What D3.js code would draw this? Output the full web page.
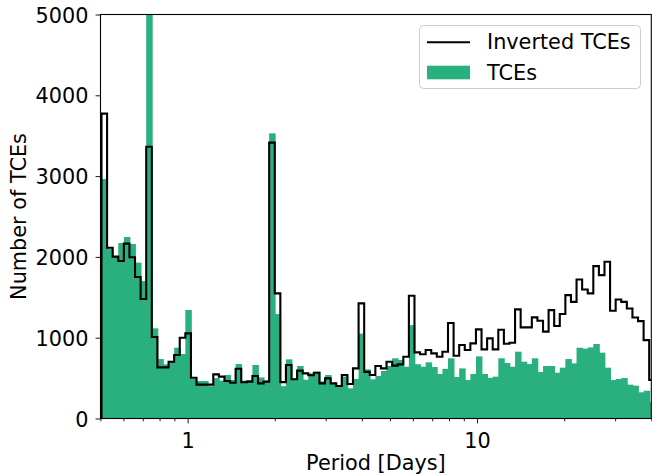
<!DOCTYPE html>
<html>
<head>
<meta charset="utf-8">
<script src="https://cdn.jsdelivr.net/npm/d3@7"></script>
<style>
  html, body { margin: 0; padding: 0; background: #fff; }
  svg { display: block; }
  text { font-family: "DejaVu Sans", sans-serif; fill: #000; }
</style>
</head>
<body>
<svg id="chart" width="652" height="475"></svg>
<script>
// Histogram counts per log-spaced period bin
const invertedCounts = [
  3773, 2114, 2003, 1949, 2164, 1995, 1751, 1479, 3364, 1008,
  633, 633, 703, 786, 1000, 1054, 505, 419, 419, 419,
  546, 518, 464, 443, 616, 448, 456, 526, 435, 456,
  3414, 1549, 450, 662, 485, 592, 559, 536, 567, 435,
  497, 435, 402, 538, 427, 620, 1425, 577, 538, 650,
  620, 703, 654, 670, 765, 1519, 819, 795, 848, 806,
  765, 826, 1182, 777, 909, 848, 930, 1103, 856, 992,
  856, 1098, 926, 938, 1350, 1128, 1128, 1252, 1210, 1075,
  1341, 1144, 1293, 1527, 1444, 1721, 1597, 1548, 1886, 1775,
  1940, 1333, 1473, 1444, 1362, 1250, 1205, 970, 476
];
const tceCounts = [
  2964, 2100, 2010, 2172, 2246, 2160, 1929, 1702, 5600, 1116,
  736, 670, 700, 876, 798, 1343, 490, 464, 464, 400,
  500, 470, 538, 476, 674, 468, 476, 662, 509, 468,
  3529, 1293, 400, 732, 497, 650, 480, 559, 580, 460,
  538, 435, 394, 520, 373, 490, 1050, 608, 485, 526,
  588, 650, 745, 724, 641, 1156, 672, 641, 695, 637,
  551, 615, 745, 514, 620, 476, 551, 769, 551, 503,
  518, 745, 687, 641, 827, 703, 674, 745, 575, 650,
  650, 567, 629, 736, 682, 876, 864, 880, 922, 815,
  629, 476, 489, 501, 419, 406, 324, 344, 204
];
const binStart = 0.504;      // left edge of the first bin [days]
const binLogStep = 0.01931;  // bin width in log10(days)
const periodRange = [0.5, 40];
const countRange = [0, 5000];
const xMajorTicks = [1, 10];
const yTicks = [0, 1000, 2000, 3000, 4000, 5000];
const seriesNames = ["Inverted TCEs", "TCEs"];
const xTitle = "Period [Days]";
const yTitle = "Number of TCEs";

const W = 652, H = 475;
const plot = { left: 100.5, right: 651.3, top: 14.5, bottom: 418.5 };
const green = "#2ab07f";
const fontSize = 20.8;

const svg = d3.select("#chart");

const x = d3.scaleLog().domain(periodRange).range([plot.left, plot.right]);
const y = d3.scaleLinear().domain(countRange).range([plot.bottom, plot.top]);

const edges = d3.range(tceCounts.length + 1).map(i => binStart * Math.pow(10, i * binLogStep));

svg.append("defs").append("clipPath").attr("id", "plotClip")
  .append("rect")
  .attr("x", plot.left).attr("y", plot.top)
  .attr("width", plot.right - plot.left).attr("height", plot.bottom - plot.top);

const area = svg.append("g").attr("clip-path", "url(#plotClip)");

// filled bars for the TCE counts (slight overlap hides anti-aliasing seams)
area.append("g").selectAll("rect")
  .data(tceCounts)
  .join("rect")
  .attr("x", (d, i) => x(edges[i]))
  .attr("width", (d, i) => x(edges[i + 1]) - x(edges[i]) + (i < tceCounts.length - 1 ? 0.9 : 0))
  .attr("y", d => y(d))
  .attr("height", d => y(0) - y(d))
  .attr("fill", green);

// step outline for the inverted TCE counts
const stepPts = [[edges[0], 0]];
invertedCounts.forEach((v, i) => {
  stepPts.push([edges[i], v]);
  stepPts.push([edges[i + 1], v]);
});
stepPts.push([edges[invertedCounts.length], 0]);

area.append("path")
  .datum(stepPts)
  .attr("d", d3.line().x(d => x(d[0])).y(d => y(d[1])))
  .attr("fill", "none")
  .attr("stroke", "#000")
  .attr("stroke-width", 2.1)
  .attr("stroke-linejoin", "miter");

// x axis: major and minor ticks
const xMinor = x.ticks().filter(t => !xMajorTicks.includes(t));
const xAxisG = svg.append("g").attr("transform", `translate(0,${plot.bottom})`);
xAxisG.call(d3.axisBottom(x).tickValues(xMinor).tickSize(2.8).tickFormat(""))
  .call(g => g.select(".domain").remove());
xAxisG.append("g")
  .call(d3.axisBottom(x).tickValues(xMajorTicks).tickSize(4.9).tickFormat(d3.format("d")))
  .call(g => g.select(".domain").remove())
  .call(g => g.selectAll("text")
    .attr("y", 29).attr("dy", null)
    .style("font-size", fontSize + "px"));
xAxisG.selectAll("line").attr("stroke", "#000").attr("stroke-width", 0.9);

// y axis
const yAxisG = svg.append("g").attr("transform", `translate(${plot.left},0)`);
yAxisG.call(d3.axisLeft(y).tickValues(yTicks).tickSize(4.9).tickFormat(d3.format("d")))
  .call(g => g.select(".domain").remove())
  .call(g => g.selectAll("line").attr("stroke", "#000").attr("stroke-width", 0.9))
  .call(g => g.selectAll("text")
    .attr("x", -12).attr("dy", "0.36em")
    .style("font-size", fontSize + "px"));

// frame
svg.append("rect")
  .attr("x", plot.left).attr("y", plot.top)
  .attr("width", plot.right - plot.left).attr("height", plot.bottom - plot.top)
  .attr("fill", "none").attr("stroke", "#000").attr("stroke-width", 1.1);

// axis titles
svg.append("text")
  .attr("x", (plot.left + plot.right) / 2).attr("y", 469.5)
  .attr("text-anchor", "middle")
  .style("font-size", fontSize + "px")
  .text(xTitle);

svg.append("text")
  .attr("transform", `translate(26,${(plot.top + plot.bottom) / 2}) rotate(-90)`)
  .attr("text-anchor", "middle")
  .style("font-size", fontSize + "px")
  .text(yTitle);

// legend
const lg = svg.append("g");
lg.append("rect")
  .attr("x", 419.5).attr("y", 25.5).attr("width", 221).attr("height", 63)
  .attr("rx", 4).attr("ry", 4)
  .attr("fill", "#fff").attr("fill-opacity", 0.8)
  .attr("stroke", "#cccccc").attr("stroke-width", 1);
lg.append("line")
  .attr("x1", 427).attr("x2", 470).attr("y1", 42.3).attr("y2", 42.3)
  .attr("stroke", "#000").attr("stroke-width", 2.1);
lg.append("rect")
  .attr("x", 427).attr("y", 65.7).attr("width", 43).attr("height", 13.6)
  .attr("fill", green);
lg.append("text").attr("x", 487).attr("y", 49.4)
  .style("font-size", fontSize + "px").text(seriesNames[0]);
lg.append("text").attr("x", 487).attr("y", 80.2)
  .style("font-size", fontSize + "px").text(seriesNames[1]);
</script>
</body>
</html>
